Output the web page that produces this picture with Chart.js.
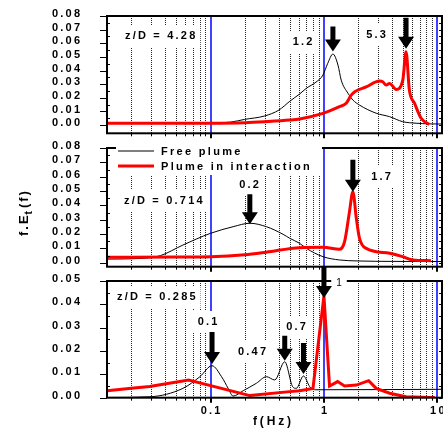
<!DOCTYPE html>
<html>
<head>
<meta charset="utf-8">
<script src="https://cdn.jsdelivr.net/npm/chart.js@4.4.1/dist/chart.umd.min.js"></script>
<style>
  html, body { margin: 0; padding: 0; background: #fff; }
  #wrap { position: relative; width: 443px; height: 429px; overflow: hidden; }
  canvas { position: absolute; left: 0; top: 0; }
</style>
</head>
<body>
<div id="wrap">
  <canvas id="cTop" width="443" height="429"></canvas>
  <canvas id="cMid" width="443" height="429"></canvas>
  <canvas id="cBot" width="443" height="429"></canvas>
</div>
<script>
// ---- data ----
// z/D = 4.28
const topFreeF = [0.0122, 0.05, 0.1, 0.15, 0.2, 0.3, 0.4, 0.5, 0.61, 0.7, 0.85, 0.98, 1.08, 1.2, 1.33, 1.42, 1.63, 1.8, 2.06, 2.89, 3.79, 4.96, 6.5, 8.5, 11];
const topFreeV = [0.0013, 0.0013, 0.0014, 0.0022, 0.0042, 0.0067, 0.011, 0.0175, 0.0228, 0.027, 0.0315, 0.0367, 0.0453, 0.0521, 0.044, 0.033, 0.0233, 0.0184, 0.0147, 0.0087, 0.0062, 0.0025, 0.0014, 0.0009, 0.0008];
const topIntF = [0.0122, 0.1, 0.2, 0.3, 0.5, 0.61, 0.98, 1.37, 1.57, 1.74, 1.87, 2.36, 3.09, 3.3, 3.54, 3.79, 4.34, 4.96, 5.3, 5.67, 6.3, 7.2, 8.5];
const topIntV = [0.0013, 0.0014, 0.0018, 0.0025, 0.0037, 0.0045, 0.0086, 0.0135, 0.016, 0.022, 0.0245, 0.028, 0.0323, 0.0318, 0.0294, 0.0306, 0.0262, 0.033, 0.0538, 0.0257, 0.016, 0.005, 0.0005];

// z/D = 0.714
const midFreeF = [0.0122, 0.025, 0.036, 0.057, 0.1, 0.158, 0.222, 0.311, 0.436, 0.5, 0.61, 0.7, 0.98, 1.37, 2, 4, 11];
const midFreeV = [0.0025, 0.003, 0.0049, 0.0123, 0.0205, 0.0251, 0.0275, 0.0251, 0.0198, 0.017, 0.0135, 0.010, 0.0042, 0.0019, 0.0012, 0.0009, 0.0008];
const midIntF = [0.0122, 0.05, 0.1, 0.2, 0.31, 0.61, 0.98, 1.37, 1.52, 1.68, 1.8, 1.93, 2.06, 2.36, 3.8, 4.95, 6.1, 8.8];
const midIntV = [0.0038, 0.004, 0.0042, 0.0055, 0.0073, 0.0105, 0.0107, 0.0093, 0.0146, 0.0356, 0.0495, 0.031, 0.017, 0.010, 0.0066, 0.0042, 0.0019, 0.0014];

// z/D = 0.285
const botFreeF = [0.0122, 0.0292, 0.057, 0.0805, 0.103, 0.125, 0.143, 0.158, 0.194, 0.254, 0.311, 0.368, 0.451, 0.53, 0.57, 0.66, 0.75, 0.8, 0.85, 11];
const botFreeV = [0.0001, 0.0004, 0.004, 0.009, 0.0137, 0.009, 0.004, 0.0007, 0.003, 0.0062, 0.009, 0.0076, 0.0154, 0.0047, 0.004, 0.0093, 0.0047, 0.0036, 0.0034, 0.0036];
const botIntF = [0.0122, 0.02, 0.029, 0.064, 0.222, 0.5, 0.61, 0.8, 1.0, 1.12, 1.32, 1.52, 1.93, 2.48, 2.89, 3.8, 5.3, 8.5, 9.5];
const botIntV = [0.003, 0.004, 0.0048, 0.0076, 0.0009, 0.0026, 0.003, 0.004, 0.0436, 0.005, 0.0069, 0.005, 0.0054, 0.0073, 0.004, 0.0019, 0.0004, 0.0001, 0.0001];

// ticks
const yTicksTop = [0, 0.01, 0.02, 0.03, 0.04, 0.05, 0.06, 0.07, 0.08];
const yTicksBot = [0, 0.01, 0.02, 0.03, 0.04, 0.05];
const xTickVals = [0.1, 1, 10];
const xTickText = ['0.1', '1', '10'];

const FONT = '"Liberation Sans", Arial, sans-serif';
const F_MIN = 0.0122, F_MAX = 11;

const decades = [0.1, 1, 10];
const minorF = [];
[0.01, 0.1, 1].forEach(d => { for (let k = 2; k <= 9; k++) minorF.push(k * d); });

function pts(fs, vs) { return fs.map((f, i) => ({ x: f, y: vs[i] })); }

function txt(ctx, s, x, y, font, sp, align, box) {
  ctx.save();
  ctx.font = font;
  ctx.letterSpacing = sp + 'px';
  ctx.textAlign = 'left';
  ctx.textBaseline = 'middle';
  const w = ctx.measureText(s).width - sp;
  let x0 = x;
  if (align === 'center') x0 = x - w / 2;
  if (align === 'right') x0 = x - w;
  if (box) {
    ctx.fillStyle = '#fff';
    ctx.fillRect(x0 - 5, y - 11, w + 10, 22);
  }
  ctx.fillStyle = '#000';
  ctx.fillText(s, x0, y);
  ctx.restore();
}

function arrow(ctx, x, tip, len) {
  const top = tip - len, hh = 12, hw = 8, sw = 2.5;
  ctx.save();
  ctx.fillStyle = '#000';
  ctx.beginPath();
  ctx.moveTo(x - sw, top);
  ctx.lineTo(x + sw, top);
  ctx.lineTo(x + sw, tip - hh);
  ctx.lineTo(x + hw, tip - hh);
  ctx.lineTo(x, tip);
  ctx.lineTo(x - hw, tip - hh);
  ctx.lineTo(x - sw, tip - hh);
  ctx.closePath();
  ctx.fill();
  ctx.restore();
}

function panelPlugin(p) {
  return {
    id: 'deco',
    beforeDatasetsDraw(chart) {
      const { ctx, chartArea: a, scales: { x } } = chart;
      ctx.save();
      ctx.lineWidth = 1;
      ctx.setLineDash([1, 1]);
      ctx.strokeStyle = 'rgba(0,0,0,0.85)';
      minorF.forEach(f => {
        const px = Math.round(x.getPixelForValue(f)) + 0.5;
        ctx.beginPath(); ctx.moveTo(px, a.top); ctx.lineTo(px, a.bottom); ctx.stroke();
      });
      ctx.setLineDash([]);
      ctx.strokeStyle = '#0000ff';
      ctx.lineWidth = 1.5;
      decades.forEach(f => {
        const px = Math.round(x.getPixelForValue(f));
        ctx.beginPath(); ctx.moveTo(px, a.top); ctx.lineTo(px, a.bottom); ctx.stroke();
      });
      ctx.restore();
    },
    afterDatasetsDraw(chart) {
      const { ctx, chartArea: a, scales: { x, y } } = chart;
      ctx.save();
      // box
      ctx.strokeStyle = '#000';
      ctx.lineWidth = 2;
      ctx.strokeRect(a.left, a.top, a.right - a.left, a.bottom - a.top);
      // y ticks
      ctx.lineWidth = 1.2;
      const ymax = p.yTicks[p.yTicks.length - 1];
      for (let i = 0; i <= Math.round(ymax / 0.005); i++) {
        const py = Math.round(y.getPixelForValue(i * 0.005)) + 0.5;
        ctx.beginPath();
        if (i % 2 === 0) { ctx.moveTo(a.left - 7, py); ctx.lineTo(a.left, py); }
        else { ctx.moveTo(a.left, py); ctx.lineTo(a.left + 3, py); }
        ctx.moveTo(a.right - 3, py); ctx.lineTo(a.right, py);
        ctx.stroke();
      }
      // x ticks
      ctx.lineWidth = 1;
      minorF.forEach(f => {
        const px = Math.round(x.getPixelForValue(f)) + 0.5;
        ctx.beginPath(); ctx.moveTo(px, a.bottom); ctx.lineTo(px, a.bottom + 3); ctx.stroke();
      });
      ctx.lineWidth = 2;
      decades.forEach(f => {
        const px = Math.round(x.getPixelForValue(f));
        ctx.beginPath(); ctx.moveTo(px, a.bottom); ctx.lineTo(px, a.bottom + 5); ctx.stroke();
      });
      ctx.restore();

      // y tick labels
      p.yTicks.forEach(v => {
        txt(ctx, v.toFixed(2), 80, y.getPixelForValue(v) - 2, 'bold 11px ' + FONT, 2.2, 'right');
      });

      // legend (white box covers the top border)
      if (p.legend) {
        ctx.save();
        ctx.fillStyle = '#fff';
        ctx.fillRect(116, a.top - 6, 206, 33);
        ctx.strokeStyle = '#000'; ctx.lineWidth = 1;
        ctx.beginPath(); ctx.moveTo(118, a.top + 3); ctx.lineTo(154, a.top + 3); ctx.stroke();
        ctx.strokeStyle = '#ff0000'; ctx.lineWidth = 3;
        ctx.beginPath(); ctx.moveTo(118, a.top + 18); ctx.lineTo(154, a.top + 18); ctx.stroke();
        ctx.restore();
        txt(ctx, 'Free plume', 161, a.top + 3.7, 'bold 11px ' + FONT, 2.3, 'left');
        txt(ctx, 'Plume in interaction', 161, a.top + 19, 'bold 11px ' + FONT, 2.3, 'left');
      }

      // labels
      p.labels.forEach(l => {
        txt(ctx, l.t, l.x, l.y, (l.reg ? '10px ' : 'bold 11px ') + FONT, l.reg ? 0 : 2.2, l.align || 'center', true);
      });
      // arrows
      p.arrows.forEach(ar => {
        arrow(ctx, x.getPixelForValue(ar.f), y.getPixelForValue(ar.v) - ar.gap, ar.len);
      });

      if (p.xLabels) {
        xTickVals.forEach((f, i) => {
          txt(ctx, xTickText[i], x.getPixelForValue(f), a.bottom + 13, 'bold 11px ' + FONT, 2.2, 'center');
        });
        txt(ctx, 'f(Hz)', 272, 421.5, 'bold 12px ' + FONT, 2.8, 'center');
        // y title
        ctx.save();
        ctx.translate(24, 211);
        ctx.rotate(-Math.PI / 2);
        ctx.fillStyle = '#000';
        ctx.textBaseline = 'middle';
        ctx.letterSpacing = '2px';
        ctx.font = 'bold 13px ' + FONT;
        let cx = -25;
        ctx.fillText('f.E', cx, 0);
        cx += ctx.measureText('f.E').width;
        ctx.font = 'bold 10px ' + FONT;
        ctx.fillText('t', cx - 1, 5);
        cx += ctx.measureText('t').width;
        ctx.font = 'bold 13px ' + FONT;
        ctx.fillText('(f)', cx, 0);
        ctx.restore();
      }
    }
  };
}

function makePanel(id, p) {
  const datasets = [
    { data: pts(p.intF, p.intV), borderColor: '#ff0000', borderWidth: 3,
      cubicInterpolationMode: p.redLinear ? 'default' : 'monotone', tension: 0 },
    { data: pts(p.freeF, p.freeV), borderColor: '#000000', borderWidth: 1,
      cubicInterpolationMode: 'monotone' }
  ];
  new Chart(document.getElementById(id), {
    type: 'line',
    data: { datasets: datasets },
    options: {
      responsive: false,
      animation: false,
      events: [],
      parsing: false,
      elements: { point: { radius: 0 }, line: { fill: false } },
      layout: { autoPadding: false, padding: { top: p.top, left: 0, right: 1, bottom: 0 } },
      plugins: { legend: { display: false }, tooltip: { enabled: false } },
      scales: {
        x: {
          type: 'logarithmic', min: F_MIN, max: F_MAX,
          ticks: { display: false }, grid: { display: false }, border: { display: false },
          afterFit: s => { s.height = 429 - p.bottom; }
        },
        y: {
          type: 'linear', min: p.yMin, max: p.yMax,
          ticks: { display: false }, grid: { display: false }, border: { display: false },
          afterFit: s => { s.width = 107; }
        }
      }
    },
    plugins: [panelPlugin(p)]
  });
}

makePanel('cTop', {
  top: 16, bottom: 133.3, yMin: -0.006, yMax: 0.08, yTicks: yTicksTop,
  freeF: topFreeF, freeV: topFreeV, intF: topIntF, intV: topIntV,
  labels: [
    { t: 'z/D = 4.28', x: 125, y: 36, align: 'left' },
    { t: '1.2', x: 302.5, y: 42 },
    { t: '5.3', x: 376, y: 35 }
  ],
  arrows: [
    { f: 1.2, v: 0.0521, gap: 2.5, len: 25 },
    { f: 5.3, v: 0.0538, gap: 3, len: 31 }
  ]
});

makePanel('cMid', {
  top: 148, bottom: 266.7, yMin: -0.0028, yMax: 0.08, yTicks: yTicksTop, legend: true,
  freeF: midFreeF, freeV: midFreeV, intF: midIntF, intV: midIntV,
  labels: [
    { t: 'z/D = 0.714', x: 124, y: 201, align: 'left' },
    { t: '0.2', x: 249, y: 185 },
    { t: '1.7', x: 381, y: 177 }
  ],
  arrows: [
    { f: 0.222, v: 0.0275, gap: -1, len: 30 },
    { f: 1.8, v: 0.0495, gap: 0, len: 32 }
  ]
});

makePanel('cBot', {
  top: 281, bottom: 397.7, yMin: 0, yMax: 0.05, yTicks: yTicksBot, xLabels: true, redLinear: true,
  freeF: botFreeF, freeV: botFreeV, intF: botIntF, intV: botIntV,
  labels: [
    { t: 'z/D = 0.285', x: 117, y: 297, align: 'left' },
    { t: '0.1', x: 207.5, y: 322 },
    { t: '0.47', x: 252, y: 352 },
    { t: '0.7', x: 296, y: 327 },
    { t: '1', x: 339, y: 283, reg: true }
  ],
  arrows: [
    { f: 0.103, v: 0.0137, gap: 1.7, len: 32 },
    { f: 0.451, v: 0.0154, gap: 1, len: 25 },
    { f: 1.0, v: 0.0436, gap: -2, len: 31 },
    { f: 0.66, v: 0.0093, gap: 2, len: 31 }
  ]
});
</script>
</body>
</html>
